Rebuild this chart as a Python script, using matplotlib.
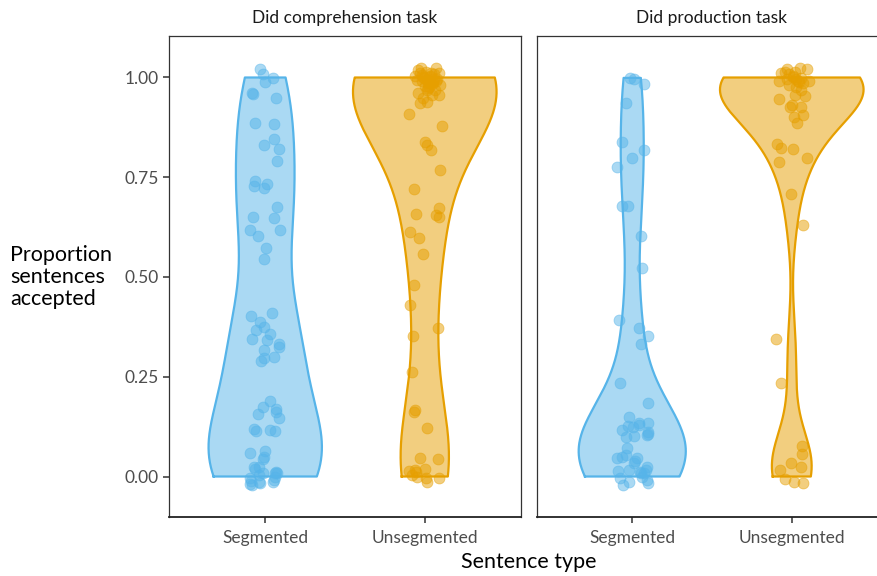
import numpy as np
import matplotlib
matplotlib.use("Agg")
import matplotlib.pyplot as plt

plt.rcParams['font.family'] = ['Lato', 'DejaVu Sans']

categories = ['Segmented', 'Unsegmented']
panels = ['Did comprehension task', 'Did production task']
colors = {'Segmented': '#56B4E9', 'Unsegmented': '#E69F00'}

# proportions accepted per participant (jittered positions as drawn,
# several points at the ends overlap each other)
comp_seg_y = [1.021, 1.008, 0.999, 0.989, 0.960, 0.958, 0.948, 0.887, 0.884, 0.847,
              0.831, 0.820, 0.791, 0.740, 0.728, 0.733, 0.722, 0.675, 0.650, 0.647,
              0.617, 0.604, 0.618, 0.573, 0.545, 0.403, 0.411, 0.388, 0.375, 0.367,
              0.357, 0.344, 0.341, 0.332, 0.324, 0.317, 0.299, 0.290, 0.296, 0.188,
              0.175, 0.168, 0.162, 0.157, 0.147, 0.119, 0.115, 0.116, 0.113, 0.060,
              0.063, 0.050, 0.045, 0.025, 0.025, 0.008, 0.012, 0.008, -0.005, -0.019,
              -0.021, -0.013, -0.017, -0.009, -0.014, 0.000, 0.010, -0.012, 0.004, 0.020]
comp_seg_dx = [-0.030, -0.014, 0.046, -0.004, -0.082, -0.077, 0.067, -0.061, 0.058, 0.056,
               -0.008, 0.086, 0.073, -0.063, -0.073, 0.011, -0.008, 0.073, -0.077, 0.056,
               -0.098, -0.048, 0.094, 0.006, -0.008, -0.090, 0.044, -0.031, -0.006, -0.056,
               0.031, -0.080, 0.014, 0.088, 0.088, -0.006, 0.052, -0.027, -0.006, 0.031,
               -0.011, 0.065, 0.065, -0.044, 0.086, -0.073, -0.056, 0.031, 0.063, -0.094,
               -0.002, -0.006, -0.011, -0.069, -0.036, -0.011, 0.065, 0.073, -0.094, -0.094,
               -0.083, -0.042, -0.031, 0.052, 0.048, 0.063, 0.060, -0.090, -0.040, -0.065]

comp_unseg_y = [1.023, 1.023, 1.005, 1.011, 1.002, 1.011, 0.994, 0.985, 0.989, 0.981,
                0.960, 0.969, 0.969, 0.956, 0.935, 0.939, 0.948, 0.956, 0.974, 0.994,
                0.909, 0.878, 0.839, 0.831, 0.818, 0.769, 0.721, 0.659, 0.672, 0.656,
                0.651, 0.614, 0.598, 0.557, 0.480, 0.431, 0.373, 0.352, 0.263, 0.167,
                0.162, 0.122, 0.046, 0.043, 0.015, 0.004, 0.016, 0.000, 0.019, -0.005,
                -0.013, -0.004, 0.012,
                1.015, 1.000, 0.992, 0.983, 1.008, 0.996, 0.979, 1.018, 0.987, 1.004,
                0.990, 0.998, 1.012, 0.977, 0.995, 1.006]
comp_unseg_dx = [-0.025, 0.073, -0.063, -0.031, -0.011, 0.088, 0.011, 0.031, 0.052, 0.094,
                 -0.042, 0.011, 0.063, 0.088, -0.031, 0.011, -0.011, 0.044, 0.019, -0.050,
                 -0.096, 0.105, 0.002, 0.014, 0.038, 0.094, -0.065, -0.052, 0.090, 0.073,
                 0.088, -0.094, -0.036, -0.014, -0.067, -0.090, 0.086, -0.075, -0.077, -0.061,
                 -0.069, 0.017, -0.027, 0.086, -0.099, -0.083, -0.063, -0.048, 0.000, 0.006,
                 0.014, 0.088, -0.056,
                 0.005, 0.025, -0.020, 0.045, 0.060, 0.078, 0.000, -0.040, 0.020, 0.035,
                 0.070, -0.005, 0.040, 0.025, 0.055, -0.015]

prod_seg_y = [0.995, 0.984, 0.999, 0.935, 0.839, 0.818, 0.798, 0.776, 0.678, 0.677,
              0.604, 0.522, 0.391, 0.373, 0.353, 0.333, 0.234, 0.183, 0.150, 0.135,
              0.135, 0.117, 0.127, 0.125, 0.112, 0.107, 0.098, 0.102, 0.072, 0.046,
              0.050, 0.054, 0.047, 0.035, 0.025, 0.015, 0.016, 0.012, 0.010, 0.016,
              -0.005, -0.021, -0.013, 0.000, -0.009, -0.016,
              0.105, 0.040, 0.008, 0.130]
prod_seg_dx = [0.014, 0.071, -0.013, -0.038, -0.063, 0.073, 0.000, -0.094, -0.061, -0.027,
               0.058, 0.063, -0.086, 0.042, 0.098, 0.052, -0.077, 0.096, -0.019, 0.042,
               0.096, -0.061, -0.029, 0.002, 0.096, 0.096, -0.042, 0.008, -0.033, -0.096,
               -0.065, -0.038, 0.033, 0.008, 0.092, -0.092, -0.023, 0.050, 0.071, 0.088,
               -0.079, -0.058, -0.023, 0.061, 0.092, 0.096,
               0.090, 0.020, 0.055, 0.040]

prod_unseg_y = [1.021, 1.023, 1.021, 1.011, 1.013, 1.015, 0.992, 0.995, 1.002, 0.992,
                0.985, 0.990, 0.981, 0.977, 0.969, 0.956, 0.954, 0.945, 0.927, 0.927,
                0.907, 0.885, 0.834, 0.823, 0.822, 0.798, 0.789, 0.708, 0.631, 0.345,
                0.234, 0.076, 0.056, 0.035, 0.023, 0.016, -0.007, -0.015, -0.016,
                1.005, 0.996, 1.010, 0.988, 0.999, 0.930, 0.900]
prod_unseg_dx = [-0.033, 0.051, 0.093, -0.068, -0.043, 0.020, -0.078, -0.033, 0.005, 0.039,
                 0.068, 0.105, -0.016, 0.026, 0.058, 0.018, 0.080, -0.083, -0.011, 0.058,
                 0.072, 0.034, -0.093, -0.066, 0.008, 0.093, -0.083, -0.003, 0.068, -0.099,
                 -0.068, 0.064, 0.061, -0.005, 0.058, -0.074, -0.041, 0.016, 0.068,
                 0.010, 0.025, -0.020, 0.045, 0.060, 0.000, 0.015]

data = {
    panels[0]: {'Segmented': (comp_seg_y, comp_seg_dx), 'Unsegmented': (comp_unseg_y, comp_unseg_dx)},
    panels[1]: {'Segmented': (prod_seg_y, prod_seg_dx), 'Unsegmented': (prod_unseg_y, prod_unseg_dx)},
}


def bw_nrd0(x):
    # same rule as R's bw.nrd0
    sd = np.std(x, ddof=1)
    q75, q25 = np.percentile(x, [75, 25])
    lo = min(sd, (q75 - q25) / 1.34)
    if lo == 0:
        lo = sd if sd > 0 else 1.0
    return 0.9 * lo * len(x) ** -0.2


def density(x):
    x = np.asarray(x)
    bw = bw_nrd0(x)
    grid = np.linspace(x.min(), x.max(), 512)
    d = np.exp(-0.5 * ((grid[:, None] - x[None, :]) / bw) ** 2).sum(axis=1)
    d /= len(x) * bw * np.sqrt(2 * np.pi)
    return grid, d


W, H = 878, 576
fig = plt.figure(figsize=(W / 100, H / 100), dpi=100)
axes = [fig.add_axes([169.5 / W, 59 / H, 351 / W, 481 / H]),
        fig.add_axes([536.5 / W, 59 / H, 351 / W, 481 / H])]

for ax, panel in zip(axes, panels):
    groups = data[panel]
    dens = {}
    for cat in categories:
        yv = np.clip(groups[cat][0], 0, 1)
        dens[cat] = density(yv)
    dmax = max(d.max() for _, d in dens.values())
    for i, cat in enumerate(categories, start=1):
        grid, d = dens[cat]
        half = 0.45 * d / dmax
        ax.fill_betweenx(grid, i - half, i + half, facecolor=colors[cat], alpha=0.5,
                         edgecolor='none', zorder=1)
        xs = np.concatenate([i - half, (i + half)[::-1], [i - half[0]]])
        ys = np.concatenate([grid, grid[::-1], [grid[0]]])
        ax.plot(xs, ys, color=colors[cat], lw=1.6, zorder=2)
        yv, dx = groups[cat]
        ax.scatter(i + np.array(dx), yv, s=62, color=colors[cat], alpha=0.5,
                   edgecolor=colors[cat], linewidth=0.6, zorder=3)

    ax.set_xlim(0.4, 2.6)
    ax.set_ylim(-0.1015, 1.104)
    ax.set_xticks([1, 2])
    ax.set_xticklabels(categories)
    ax.tick_params(axis='x', length=4, width=1.1, color='#333333', labelcolor='#4D4D4D',
                   labelsize=12.5, pad=5)
    for side in ['top', 'left', 'right']:
        ax.spines[side].set_color('#333333')
        ax.spines[side].set_linewidth(0.9)
    ax.spines['bottom'].set_color('#222222')
    ax.spines['bottom'].set_linewidth(1.3)
    ax.set_title(panel, fontsize=12.5, color='#1A1A1A', pad=9)

axes[0].set_yticks([0, 0.25, 0.5, 0.75, 1.0])
axes[0].set_yticklabels(['0.00', '0.25', '0.50', '0.75', '1.00'])
axes[0].tick_params(axis='y', length=4, width=1.1, color='#333333', labelcolor='#4D4D4D',
                    labelsize=12.5, pad=4)
axes[1].set_yticks([])

fig.text(10 / W, 1 - 277 / H, 'Proportion\nsentences\naccepted', ha='left', va='center',
         fontsize=15.5, linespacing=1.15)
fig.text(528.5 / W, 1 - 562 / H, 'Sentence type', ha='center', va='center', fontsize=15.5)

fig.savefig('out.png', dpi=100)
